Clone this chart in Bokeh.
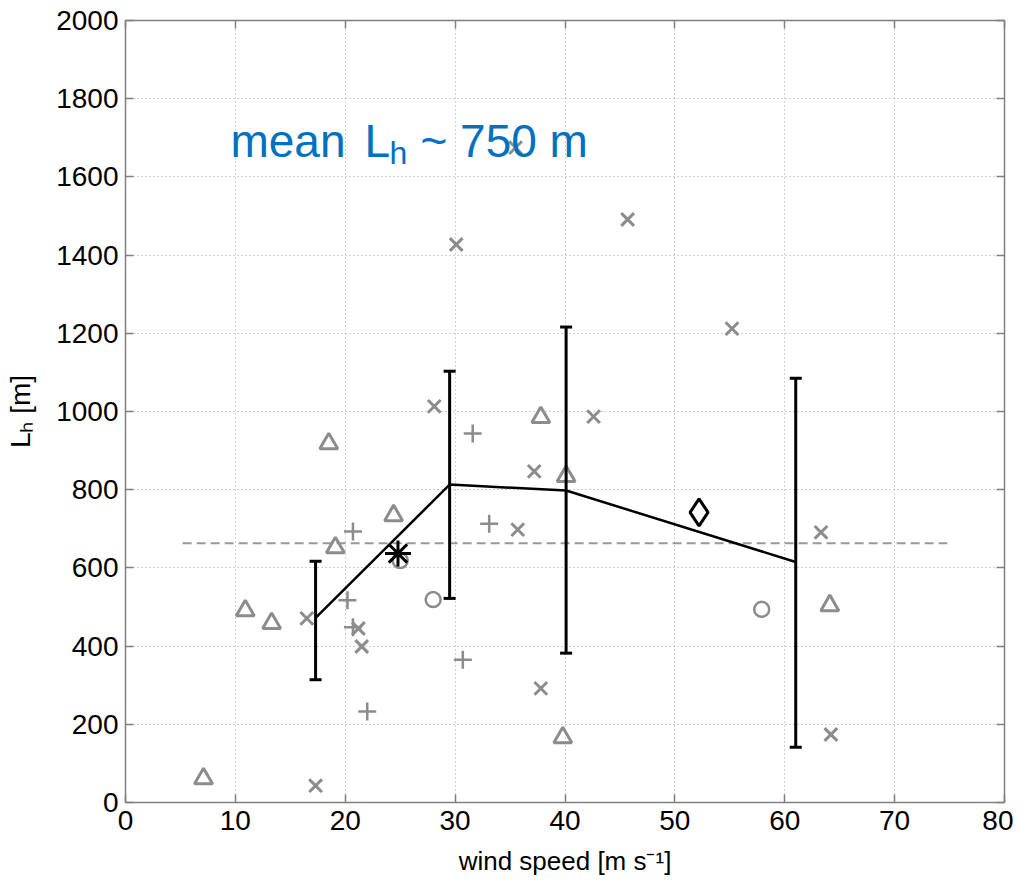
from bokeh.plotting import figure
from bokeh.models import Range1d, LinearAxis, Label, FixedTicker, CustomLabelingPolicy
from bokeh.embed import file_html
from bokeh.resources import INLINE

# ---- data ----
tri_x = [7.1, 10.9, 13.3, 18.5, 19.1, 24.4, 37.8, 40.1, 39.8, 64.1]
tri_y = [61, 491, 458, 918, 652, 734, 985, 834, 166, 504]

cross_x_x = [35.5, 30.1, 45.7, 55.2, 28.1, 42.6, 37.2, 35.7, 37.8, 63.3, 64.2, 16.5, 17.3, 21.2, 21.5]
cross_x_y = [1675, 1427, 1491, 1212, 1013, 987, 847, 698, 292, 691, 174, 471, 43, 445, 399]

plus_x = [20.7, 20.2, 20.7, 22.0, 31.6, 33.1, 30.7]
plus_y = [693, 517, 448, 233, 944, 713, 365]

circ_x = [28.0, 57.9, 25.0]
circ_y = [519, 494, 619]

star_x = [24.8]
star_y = [637]

diam_x = [52.2]
diam_y = [742]

mean_x = [17.3, 29.5, 40.1, 61.0]
mean_y = [472, 813, 798, 615]
err_lo = [314, 522, 382, 141]
err_hi = [617, 1103, 1216, 1085]

ref_x = [5.2, 74.8]
ref_y = [663, 663]

xticks = [0, 10, 20, 30, 40, 50, 60, 70, 80]
yticks = [0, 200, 400, 600, 800, 1000, 1200, 1400, 1600, 1800, 2000]

GRAY = "#8c8c8c"
AXC = "#7f7f7f"
FONT = "Liberation Sans"

p = figure(width=1013, height=885, x_range=Range1d(0, 80), y_range=Range1d(0, 2000),
           output_backend="svg", toolbar_location=None,
           min_border_left=125, min_border_right=9, min_border_top=20, min_border_bottom=83)
p.background_fill_color = "white"
p.border_fill_color = "white"
p.outline_line_color = None

hide_all = CustomLabelingPolicy(code="""
for (let i = 0; i < indices.size; i++) { indices.unset(i) }
return indices
""")

def style_axis(ax, labels=True):
    ax.major_tick_in = 8
    ax.major_tick_out = 0
    ax.minor_tick_line_color = None
    ax.axis_line_color = AXC
    ax.axis_line_width = 1.5
    ax.major_tick_line_color = AXC
    ax.major_tick_line_width = 1.5
    ax.major_label_text_font = FONT
    ax.major_label_text_color = "black"
    if labels:
        ax.major_label_text_font_size = "28px"
    else:
        ax.major_label_text_font_size = "1px"
        ax.major_label_standoff = 0
        ax.major_label_policy = hide_all

p.xaxis.ticker = FixedTicker(ticks=xticks)
p.yaxis.ticker = FixedTicker(ticks=yticks)
style_axis(p.xaxis[0]); style_axis(p.yaxis[0])
p.xaxis.major_label_standoff = 8
p.yaxis.major_label_standoff = 7

p.xaxis.axis_label = "wind speed [m s\u207b\u00b9]"
p.yaxis.axis_label = "L\u2095 [m]"
for ax in (p.xaxis[0], p.yaxis[0]):
    ax.axis_label_text_font = FONT
    ax.axis_label_text_font_style = "normal"
    ax.axis_label_text_color = "black"
p.xaxis.axis_label_text_font_size = "26px"
p.yaxis.axis_label_text_font_size = "28px"
p.xaxis.axis_label_standoff = 13
p.yaxis.axis_label_standoff = 17

ra = LinearAxis(ticker=FixedTicker(ticks=yticks))
style_axis(ra, labels=False)
p.add_layout(ra, "right")
ta = LinearAxis(ticker=FixedTicker(ticks=xticks))
style_axis(ta, labels=False)
p.add_layout(ta, "above")

p.xgrid.ticker = FixedTicker(ticks=xticks)
p.ygrid.ticker = FixedTicker(ticks=yticks)
for g in (p.xgrid[0], p.ygrid[0]):
    g.grid_line_color = "#a0a0a0"
    g.grid_line_dash = "1 3"
    g.grid_line_width = 1

# reference dashed line
p.line(ref_x, ref_y, line_color="#999999", line_width=2, line_dash="9 5")

# gray scatter
p.scatter(tri_x, tri_y, marker="triangle", size=18, fill_color=None, line_color=GRAY, line_width=3)
p.scatter(cross_x_x, cross_x_y, marker="x", size=18, line_color=GRAY, line_width=3)
p.scatter(plus_x, plus_y, marker="cross", size=18, line_color=GRAY, line_width=2.5)
p.scatter(circ_x, circ_y, marker="circle", size=15, fill_color=None, line_color=GRAY, line_width=2.5)

# mean curve with error bars
p.line(mean_x, mean_y, line_color="black", line_width=2.5)
p.segment(x0=mean_x, y0=err_lo, x1=mean_x, y1=err_hi, line_color="black", line_width=3)
p.scatter(mean_x, err_lo, marker="dash", size=12, line_color="black", line_width=3)
p.scatter(mean_x, err_hi, marker="dash", size=12, line_color="black", line_width=3)

p.scatter(star_x, star_y, marker="asterisk", size=26, line_color="black", line_width=3)
p.scatter(diam_x, diam_y, marker="diamond", size=27, fill_color=None, line_color="black", line_width=3)

# annotation "mean L_h ~ 750 m"
BLUE = "#0070C0"
for txt, x, y, fs in [("mean", 9.55, 1693, "46px"), ("L", 21.75, 1693, "46px"),
                      ("h", 24.02, 1660, "32px"), ("~ 750 m", 26.84, 1693, "46px")]:
    p.add_layout(Label(x=x, y=y, text=txt, text_font=FONT, text_font_size=fs,
                       text_color=BLUE, text_baseline="alphabetic", text_align="left"))

open("out.html", "w").write(file_html(p, INLINE))
